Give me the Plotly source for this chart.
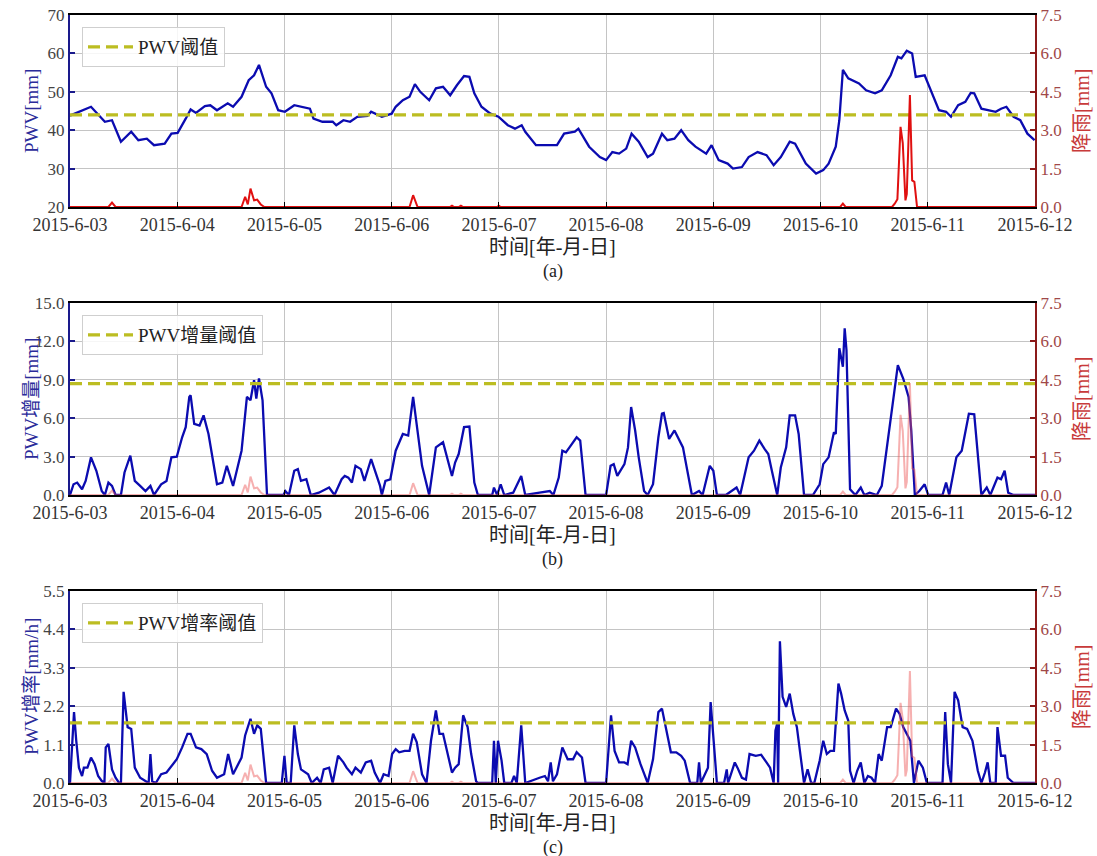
import pandas as pd
import plotly.graph_objects as go

# ---------------- data ----------------
start_day = "2015-06-03"
day_labels = ["2015-6-03", "2015-6-04", "2015-6-05", "2015-6-06", "2015-6-07",
              "2015-6-08", "2015-6-09", "2015-6-10", "2015-6-11", "2015-6-12"]

pwv_hours = [0, 4.7, 7.8, 9.4, 11.4, 13.7, 15.3, 17.2, 18.8, 21.2, 22.7, 24.1, 25.9, 27.0, 28.2,
             30.2, 31.4, 32.9, 35.3, 36.5, 38.4, 39.2, 40.0, 41.2, 42.3, 43.9, 45.1, 46.6, 48.1,
             50.2, 52.5, 53.7, 54.5, 56.5, 58.8, 59.6, 61.2, 62.7, 64.3, 66.6, 67.4, 69.8, 72.0,
             72.9, 74.5, 76.0, 77.2, 78.4, 80.4, 81.9, 83.5, 85.1, 86.6, 88.2, 89.4, 90.5, 92.1,
             94.1, 95.9, 98.0, 99.6, 101.1, 101.9, 104.3, 105.1, 109.0, 110.6, 113.0, 113.8,
             116.2, 118.6, 120.0, 121.4, 122.9, 124.5, 125.7, 127.3, 129.3, 130.5, 132.5, 133.7,
             135.3, 136.8, 138.4, 140.0, 142.4, 143.6, 145.2, 147.2, 148.4, 150.4, 151.9, 153.9,
             155.9, 157.5, 159.1, 161.1, 162.3, 164.7, 167.0, 168.6, 169.8, 171.4, 172.2, 173.0,
             174.2, 176.6, 178.2, 180.2, 181.7, 183.7, 185.3, 186.1, 187.3, 188.5, 189.3, 191.3,
             192.5, 194.5, 196.1, 197.2, 198.8, 200.4, 201.6, 202.4, 204.0, 205.6, 207.2, 208.4,
             209.6, 211.2, 212.7, 214.3, 215.9]
pwv_values = [43.8, 46.1, 42.2, 42.6, 37.0, 39.6, 37.4, 37.8, 36.1, 36.5, 39.1, 39.3, 43.0, 45.4, 44.5,
              46.3, 46.5, 45.2, 47.0, 46.1, 48.7, 50.9, 53.0, 54.3, 57.0, 51.3, 49.6, 45.2, 44.8,
              46.5, 45.9, 45.6, 43.0, 42.2, 42.2, 41.3, 42.6, 42.2, 43.5, 43.7, 44.8, 43.5, 44.3,
              46.1, 47.8, 48.7, 52.0, 50.0, 47.8, 50.9, 51.3, 49.1, 51.7, 54.1, 53.9, 49.6, 46.1,
              44.3, 43.5, 41.3, 40.4, 41.3, 39.6, 36.1, 36.1, 36.1, 39.1, 39.6, 40.4,
              35.7, 33.0, 32.2, 34.3, 33.9, 35.2, 39.1, 37.0, 33.0, 33.9, 39.1, 37.4,
              37.8, 40.0, 37.4, 35.7, 33.9, 36.1, 32.2, 31.3, 30.0, 30.4, 33.0, 34.3,
              33.5, 30.9, 33.0, 37.0, 36.5, 31.3, 28.7, 29.6, 31.3, 35.7, 42.6, 55.7,
              53.5, 52.2, 50.4, 49.6, 50.4, 54.3, 59.1, 58.7, 60.7, 60.0, 53.9, 54.3,
              50.9, 45.2, 44.8, 43.5, 46.5, 47.4, 49.7, 49.6, 45.6, 45.2, 44.8, 45.6,
              46.1, 43.5, 42.6, 39.1, 37.4]

inc_hours = [0, 0.8, 1.6, 2.7, 3.5, 4.7, 5.9, 7.1, 7.8, 8.6, 9.4, 10.2, 11.4, 12.2, 13.5, 14.5, 15.7,
             16.9, 18.0, 18.8, 20.4, 21.6, 22.7, 23.9, 25.1, 25.9, 26.7, 27.0, 27.8, 29.0, 29.9,
             31.0, 32.9, 34.1, 35.1, 36.5, 38.4, 39.6, 40.4, 41.2, 41.7, 42.3, 43.1, 44.1, 47.8,
             48.2, 49.0, 50.2, 51.0, 51.7, 52.9, 53.9, 55.7, 58.0, 59.2, 60.8, 61.5, 62.3, 63.1,
             63.9, 65.1, 65.9, 67.4, 68.2, 69.4, 69.8, 70.6, 71.7, 72.9, 74.5, 75.7, 76.8, 77.6,
             78.8, 80.4, 81.9, 83.5, 85.5, 86.2, 87.0, 88.2, 89.4, 90.5, 91.3, 94.5, 94.9, 95.6,
             96.4, 97.2, 99.2, 101.0, 101.9,
             105.1, 107.4, 108.2, 109.4, 110.2, 111.0, 111.8, 113.4, 114.2, 115.4, 120.0, 121.0,
             121.7, 122.5, 124.1, 124.9, 125.6, 126.5, 127.3, 128.5, 129.3, 130.5, 131.7, 132.5,
             132.9, 134.1, 135.3, 136.5, 137.2, 139.2, 140.8, 141.6, 143.2, 144.0, 144.8, 146.8,
             149.2, 150.0, 151.9, 153.1, 154.3, 155.5, 156.3, 157.1, 157.9, 158.3, 159.1, 160.3,
             161.1, 162.3, 163.1, 164.3, 166.3, 167.8, 168.6, 169.8, 171.0, 171.4, 172.2, 173.0,
             173.4, 173.8, 174.6, 175.8, 177.0, 177.8, 179.0, 180.6, 181.7, 182.9, 184.1, 185.3,
             186.5, 187.7, 188.3, 189.1, 190.1, 191.3, 192.1, 195.3, 196.1, 196.8, 198.4, 199.6,
             201.2, 202.4, 204.0, 205.2, 206.0, 207.6, 208.4, 209.2, 210.0, 211.2, 216.0]
inc_values = [0, 0.84, 0.97, 0.45, 1.1, 2.94, 1.89, 0.31, 0, 0.97, 0.71, 0, 0, 1.76, 3.07, 1.1, 0.71,
              0.31, 0.71, 0, 0.84, 1.1, 2.94, 2.99, 4.51, 5.3, 7.66, 7.79, 5.56, 5.43, 6.22,
              4.77, 0.84, 0.97, 2.28, 0.71, 3.46, 7.66, 7.4, 8.97, 7.53, 9.1, 7.4, 0, 0,
              0.31, 0, 1.89, 2.02, 1.1, 1.23, 0, 0.18, 0.58, 0, 1.23, 1.49, 1.36, 0.97,
              2.28, 2.02, 1.1, 2.81, 2.02, 0.71, 0, 1.1, 1.23, 3.46, 4.77, 4.64, 7.66, 5.43,
              2.28, 0, 3.72, 4.12, 1.49, 2.54, 3.2, 5.3, 5.35, 0.97, 0, 0, 0.58, 0,
              0.84, 0, 0.18, 1.49, 0,
              0.18, 0.31, 0, 1.36, 3.46, 3.33, 3.72, 4.51, 4.25, 0, 0, 2.28,
              2.41, 1.49, 2.41, 3.72, 6.87, 5.04, 2.94, 0.31, 0, 0.84, 4.51, 6.35,
              6.4, 4.38, 5.04, 4.25, 3.72, 0, 0.31, 0, 2.28, 1.89, 0, 0,
              0.58, 0, 2.94, 3.46, 4.25, 3.59, 3.2, 1.89, 0.58, 0, 2.15, 3.72,
              6.22, 6.22, 4.77, 0, 0, 0.84, 2.41, 2.94, 4.9, 4.77, 11.46, 10.02,
              13.03, 11.33, 0.45, 0, 0.58, 0, 0.18, 0, 0.71, 3.72, 7.13, 10.15,
              9.1, 7.66, 5.04, 0, 0.31, 0.84, 0, 0, 0.97, 0, 2.94, 3.46,
              6.35, 6.3, 0, 0.58, 0, 1.36, 1.23, 1.89, 0.18, 0, 0]

rate_hours = [0, 0.4, 0.9, 1.4, 2.0, 2.7, 3.1, 3.9, 4.7, 5.5, 6.3, 7.1, 7.7, 8.0, 8.6, 9.4, 10.2,
              11.0, 11.4, 12.0, 12.9, 13.7, 14.5, 15.7, 16.9, 17.6, 18.0, 18.4, 19.2, 20.4, 21.6,
              22.7, 23.9, 25.1, 26.3, 27.0, 28.2, 29.4, 30.6, 31.8, 32.9, 34.5, 35.4, 36.5, 38.4,
              39.2, 40.4, 41.2, 41.9, 42.7, 43.9, 47.4, 48.0, 48.5, 49.4, 50.2, 51.0, 51.7, 53.3,
              54.1, 55.3, 56.1, 56.8, 58.0, 58.8, 60.0, 61.2, 61.9, 63.1, 63.9, 65.1, 66.2, 67.4,
              68.2, 69.4, 70.2, 71.3, 72.1, 72.9, 73.7, 74.9, 76.0, 76.8, 77.6, 78.8, 79.8, 80.8,
              81.9, 82.7, 83.5, 84.7, 85.5, 86.2, 87.0, 88.0, 89.0, 89.8, 90.9, 91.3, 94.5, 94.9,
              95.3, 95.8, 96.6, 97.2, 98.8, 99.4, 100.0, 101.0, 101.9,
              105.1, 106.3, 107.0, 107.6, 108.1, 109.0, 110.2, 111.4, 112.6, 113.4, 114.6, 115.4,
              120.0, 120.6, 121.1, 121.9, 122.9, 124.1, 124.8, 125.6, 126.5, 127.7, 129.3, 130.5,
              131.7, 132.5, 133.3, 134.5, 135.7, 136.8, 137.6, 138.8, 140.4, 140.8, 141.2, 142.8,
              143.4, 144.0, 144.8, 146.4, 147.0, 147.3, 148.8, 149.4, 150.4, 151.3, 152.1, 153.5,
              154.7, 155.9, 156.7, 157.5, 157.9, 158.3, 158.5, 158.9, 159.5, 160.3, 161.1, 161.9,
              162.7, 164.3, 165.1, 165.9, 166.6, 167.8, 168.6, 169.4, 170.2, 171.0, 172.0, 172.6,
              173.4, 174.2, 174.6, 175.4, 176.2, 177.0, 177.8, 178.6, 179.4, 180.2, 181.0, 181.7,
              182.9, 183.7, 184.9, 185.7, 186.5, 188.1, 188.9, 189.9, 190.9, 191.8, 195.3, 195.9,
              196.5, 197.2, 198.0, 198.8, 199.8, 200.8, 202.0, 203.2, 204.0, 204.8, 205.4, 206.0,
              207.2, 207.6, 208.4, 209.3, 209.9, 211.2, 216.0]
rate_values = [0, 0.83, 2.03, 1.21, 0.44, 0.2, 0.44, 0.44, 0.73, 0.54, 0.2, 0.06, 0, 1.02, 1.12, 0.39, 0.15,
               0, 0, 2.61, 1.6, 1.55, 0.44, 0.15, 0.05, 0, 0.83, 0.05, 0, 0.25, 0.3,
               0.49, 0.68, 1.02, 1.41, 1.41, 1.02, 0.97, 0.83, 0.35, 0.15, 0.25, 0.83, 0.25, 0.73,
               1.36, 1.84, 1.41, 1.65, 1.55, 0, 0, 0.78, 0, 0, 1.65, 0.83, 0.39, 0.25,
               0, 0.15, 0, 0.39, 0.44, 0, 0.78, 0.59, 0.44, 0.25, 0.44, 0.3, 0.59, 0.64,
               0.3, 0, 0.25, 0.2, 0.83, 0.97, 0.88, 0.92, 0.92, 1.41, 1.17, 0.25, 0, 1.21,
               2.08, 1.41, 1.41, 0.73, 0.3, 0.44, 0.54, 1.94, 1.6, 0.83, 0.05, 0, 0, 1.21,
               0, 1.21, 0.64, 0, 0, 0.2, 0, 1.65, 0,
               0.15, 0.2, 0.05, 0.59, 0.05, 0.25, 1.02, 0.68, 0.68, 0.88, 0.73, 0,
               0, 1.21, 1.94, 0.92, 0.59, 0.59, 0.54, 1.21, 1.02, 0.54, 0, 0.68,
               2.03, 2.13, 1.6, 0.88, 0.88, 0.78, 0.64, 0, 0, 0.59, 0, 0.44,
               2.32, 1.41, 0, 0, 0.39, 0, 0.59, 0.44, 0.15, 0.1, 0.83, 0.78,
               0.81, 0.59, 0.44, 0, 1.5, 1.7, 0, 4.06, 2.47, 2.18, 2.56, 1.98,
               1.6, 0, 0.39, 0, 0, 0.64, 1.21, 0.83, 0.92, 0.92, 2.85, 2.56,
               2.08, 1.79, 0.35, 0, 0.35, 0.59, 0, 0.2, 0.15, 0, 0.83, 0.64,
               1.6, 1.6, 2.13, 1.98, 1.6, 1.21, 0, 0.64, 0.44, 0, 0, 2.03,
               0.54, 0, 2.61, 2.37, 1.6, 1.55, 1.21, 0.35, 0, 0.3, 0.59, 0,
               0, 1.6, 0.78, 0.78, 0.15, 0, 0]

rain_hours = [0, 8.6, 9.4, 10.2, 38.4, 39.2, 39.8, 40.4, 41.2, 41.9, 42.7, 43.5, 76.0, 76.8, 77.8,
              85.0, 85.5, 86.0, 87.0, 87.5, 88.0, 95.6, 96.0, 96.4, 172.4, 173.0, 173.6, 184.0,
              184.6, 185.2, 185.9, 186.4, 187.0, 187.3, 188.0, 188.5, 189.0, 189.6, 216.0]
rain_values = [0, 0, 0.17, 0, 0, 0.4, 0.1, 0.72, 0.26, 0.29, 0.1, 0, 0, 0.46, 0,
               0, 0.05, 0, 0, 0.05, 0, 0, 0.05, 0, 0, 0.13, 0, 0,
               0.13, 0.3, 3.13, 2.5, 0.26, 0.5, 4.37, 1.04, 0.98, 0, 0]

pwv_threshold = 44.0
inc_threshold = 8.7
rate_threshold = 1.72

pwv_ticks = [20, 30, 40, 50, 60, 70]
pwv_ticktext = ["20", "30", "40", "50", "60", "70"]
inc_ticks = [0, 3, 6, 9, 12, 15]
inc_ticktext = ["0.0", "3.0", "6.0", "9.0", "12.0", "15.0"]
rate_ticks = [0, 1.1, 2.2, 3.3, 4.4, 5.5]
rate_ticktext = ["0.0", "1.1", "2.2", "3.3", "4.4", "5.5"]
rain_ticks = [0, 1.5, 3.0, 4.5, 6.0, 7.5]
rain_ticktext = ["0.0", "1.5", "3.0", "4.5", "6.0", "7.5"]

panel_letters = ["(a)", "(b)", "(c)"]
left_titles = ["PWV[mm]", "PWV增量[mm]", "PWV增率[mm/h]"]
legend_names = ["PWV阈值", "PWV增量阈值", "PWV增率阈值"]
x_title = "时间[年-月-日]"
rain_title = "降雨[mm]"

# ---------------- figure ----------------
W, H = 1097, 856
start = pd.Timestamp(start_day)
day_ticks = pd.date_range(start, periods=len(day_labels), freq="D")
x_range = [day_ticks[0], day_ticks[-1]]


def to_time(hours):
    return start + pd.to_timedelta(hours, unit="h")


FONT = "'Liberation Serif', 'Noto Sans CJK SC', serif"
BLUE = "#0b0bb0"
AXBLUE = "#1a1a8c"
RED = "#e01010"
AXRED = "#8b1a1a"
OLIVE = "#bcbd22"
GRID = "#c4c4c4"

px_left, px_right = 70, 1035
panel_tops = [15, 303, 591]
panel_h = 192

fig = go.Figure()

series = [
    (pwv_hours, pwv_values, pwv_threshold, [20, 70], pwv_ticks, pwv_ticktext),
    (inc_hours, inc_values, inc_threshold, [0, 15], inc_ticks, inc_ticktext),
    (rate_hours, rate_values, rate_threshold, [0, 5.5], rate_ticks, rate_ticktext),
]

layout = dict(
    width=W, height=H, margin=dict(l=0, r=0, t=0, b=0, autoexpand=False),
    template="none",
    paper_bgcolor="white", plot_bgcolor="white",
    font=dict(family=FONT, size=16, color="#333333"),
    annotations=[],
)

for i, (hrs, vals, thr, yr, yt, ytt) in enumerate(series):
    n = i + 1
    xa = "x" if n == 1 else f"x{n}"
    ya_main = 2 * i + 1
    ya_rain = 2 * i + 2
    yname_main = "y" if ya_main == 1 else f"y{ya_main}"
    yname_rain = f"y{ya_rain}"
    leg = "legend" if n == 1 else f"legend{n}"

    fig.add_trace(go.Scatter(
        x=to_time(hrs), y=vals, mode="lines", xaxis=xa, yaxis=yname_main,
        line=dict(color=BLUE, width=2.3), showlegend=False, hoverinfo="skip"))
    fig.add_trace(go.Scatter(
        x=x_range, y=[thr, thr], mode="lines", xaxis=xa, yaxis=yname_main,
        name=legend_names[i], legend=leg,
        line=dict(color=OLIVE, width=3.2, dash="12px,6px"), showlegend=True))
    rain_color = RED if i == 0 else "rgba(235,80,80,0.45)"
    fig.add_trace(go.Scatter(
        x=to_time(rain_hours), y=rain_values, mode="lines", xaxis=xa, yaxis=yname_rain,
        line=dict(color=rain_color, width=2.0), showlegend=False, hoverinfo="skip"))

    top = panel_tops[i]
    bottom = top + panel_h
    ydom = [1 - bottom / H, 1 - top / H]
    xdom = [px_left / W, px_right / W]

    xkey = "xaxis" if n == 1 else f"xaxis{n}"
    layout[xkey] = dict(
        domain=xdom, anchor=yname_main, range=x_range, type="date",
        tickvals=list(day_ticks), ticktext=day_labels,
        ticks="inside", ticklen=5, tickwidth=1.2, tickcolor="black",
        tickfont=dict(family=FONT, size=18, color="#333333"),
        showgrid=True, gridcolor=GRID, gridwidth=1,
        showline=True, linecolor="black", linewidth=2, mirror=True,
        zeroline=False, fixedrange=True, automargin=False,
    )
    ykey_main = "yaxis" if ya_main == 1 else f"yaxis{ya_main}"
    layout[ykey_main] = dict(
        domain=ydom, anchor=xa, range=yr, tickvals=yt, ticktext=ytt,
        ticks="inside", ticklen=5, tickwidth=1.5, tickcolor=AXBLUE,
        tickfont=dict(family=FONT, size=17, color="#444444"),
        showgrid=True, gridcolor=GRID, gridwidth=1,
        showline=True, linecolor=AXBLUE, linewidth=2.2,
        zeroline=False, fixedrange=True, automargin=False,
    )
    layout[f"yaxis{ya_rain}"] = dict(
        overlaying=yname_main, side="right", anchor=xa, range=[0, 7.5],
        tickvals=rain_ticks, ticktext=rain_ticktext,
        ticks="inside", ticklen=5, tickwidth=1.5, tickcolor=AXRED,
        tickfont=dict(family=FONT, size=17, color="#a04848"),
        showgrid=False, showline=True, linecolor=AXRED, linewidth=2,
        zeroline=False, fixedrange=True, automargin=False,
    )
    layout[leg] = dict(
        x=82 / W, y=1 - (top + 12) / H, xanchor="left", yanchor="top",
        xref="paper", yref="paper",
        bgcolor="rgba(255,255,255,0.85)", bordercolor="#cfcfcf", borderwidth=1,
        font=dict(family=FONT, size=19, color="#222222"),
        itemwidth=45, tracegroupgap=0,
    )

    cx = (px_left + px_right) / 2 / W
    layout["annotations"] += [
        dict(text=x_title, x=cx, y=1 - (top + 232) / H, xref="paper", yref="paper",
             showarrow=False, xanchor="center", yanchor="middle",
             font=dict(family=FONT, size=20, color="#222222")),
        dict(text=panel_letters[i], x=cx, y=1 - (top + 256) / H, xref="paper", yref="paper",
             showarrow=False, xanchor="center", yanchor="middle",
             font=dict(family=FONT, size=18, color="#222222")),
        dict(text=left_titles[i], x=31 / W, y=1 - (top + panel_h / 2) / H,
             xref="paper", yref="paper", showarrow=False, textangle=-90,
             xanchor="center", yanchor="middle",
             font=dict(family=FONT, size=19, color="#2b2b9a")),
        dict(text=rain_title, x=1082 / W, y=1 - (top + panel_h / 2) / H,
             xref="paper", yref="paper", showarrow=False, textangle=-90,
             xanchor="center", yanchor="middle",
             font=dict(family=FONT, size=20, color="#c83a3a")),
    ]

fig.update_layout(**layout)
fig.write_html("out.html")
